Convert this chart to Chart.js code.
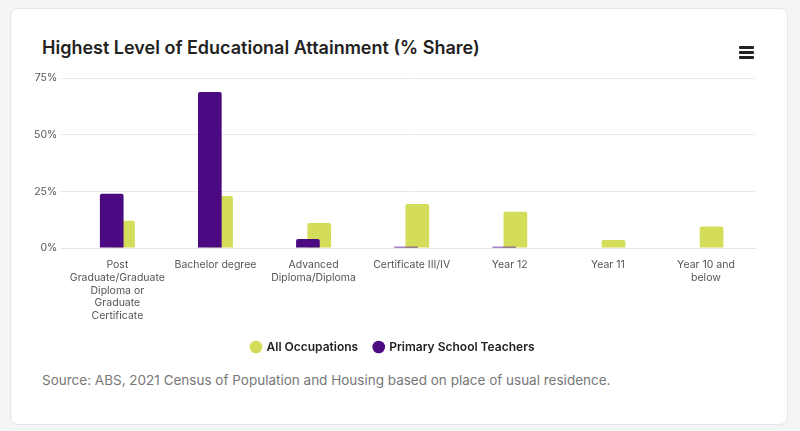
<!DOCTYPE html>
<html>
<head>
<meta charset="UTF-8">
<script src="https://cdn.jsdelivr.net/npm/chart.js@4"></script>
<style>
  body { margin:0; background:#f4f5f7; font-family: Inter, sans-serif; }
  .card { position:absolute; left:10px; top:8px; width:776px; height:415px; background:#fff;
          border:1px solid #e3e5e8; border-radius:8px; }
  .title { position:absolute; left:31px; top:28px; font-size:18px; font-weight:600; color:#222; }
  .menu { position:absolute; left:728px; top:37px; width:15px; }
  .menu div { height:3px; background:#222; margin-bottom:2px; border-radius:1px; }
  .wrap { position:absolute; left:0; top:60px; width:776px; height:294px; }
  .source { position:absolute; left:31px; top:363px; font-size:13.5px; color:#777; }
</style>
</head>
<body>
<div class="card">
  <div class="title">Highest Level of Educational Attainment (% Share)</div>
  <div class="menu"><div></div><div></div><div></div></div>
  <div class="wrap"><canvas id="c"></canvas></div>
  <div class="source">Source: ABS, 2021 Census of Population and Housing based on place of usual residence.</div>
</div>
<script>
const categories = [
  ['Post', 'Graduate/Graduate', 'Diploma or', 'Graduate', 'Certificate'],
  'Bachelor degree',
  ['Advanced', 'Diploma/Diploma'],
  'Certificate III/IV',
  'Year 12',
  'Year 11',
  ['Year 10 and', 'below']
];
const teachers = [24, 69, 4, 0.5, 0.5, 0, 0];
const allOccupations = [12, 23, 11, 19.5, 16, 3.5, 9.5];
const yTicks = [0, 25, 50, 75];

new Chart(document.getElementById('c'), {
  type: 'bar',
  data: {
    labels: categories,
    datasets: [
      { label: 'Primary School Teachers', data: teachers, backgroundColor: '#4b0a82',
        borderRadius: 2, categoryPercentage: 0.23, barPercentage: 2.1 },
      { label: 'All Occupations', data: allOccupations, backgroundColor: '#d3dd5a',
        borderRadius: 2, categoryPercentage: 0.23, barPercentage: 2.1 }
    ]
  },
  options: {
    responsive: true, maintainAspectRatio: false, animation: false,
    layout: { padding: { left: 20, right: 32, top: 0 } },
    plugins: {
      legend: {
        position: 'bottom',
        labels: {
          usePointStyle: true, pointStyle: 'circle', boxWidth: 9, boxHeight: 9,
          padding: 16, color: '#222', font: { family: 'Inter', size: 12, weight: '600' },
          sort: (a, b) => b.datasetIndex - a.datasetIndex
        }
      },
      tooltip: { callbacks: { label: c => `${c.dataset.label}: ${c.raw}%` } }
    },
    scales: {
      x: {
        grid: { display: false },
        border: { color: '#e0e4ea' },
        ticks: { color: '#555', font: { family: 'Inter', size: 10.5 }, maxRotation: 0, autoSkip: false }
      },
      y: {
        min: 0, max: 75,
        afterBuildTicks: s => { s.ticks = yTicks.map(v => ({ value: v })); },
        grid: { color: '#e6e9ef' },
        border: { display: false },
        ticks: { color: '#555', font: { family: 'Inter', size: 10.5 }, callback: v => v + '%' }
      }
    }
  }
});
</script>
</body>
</html>
